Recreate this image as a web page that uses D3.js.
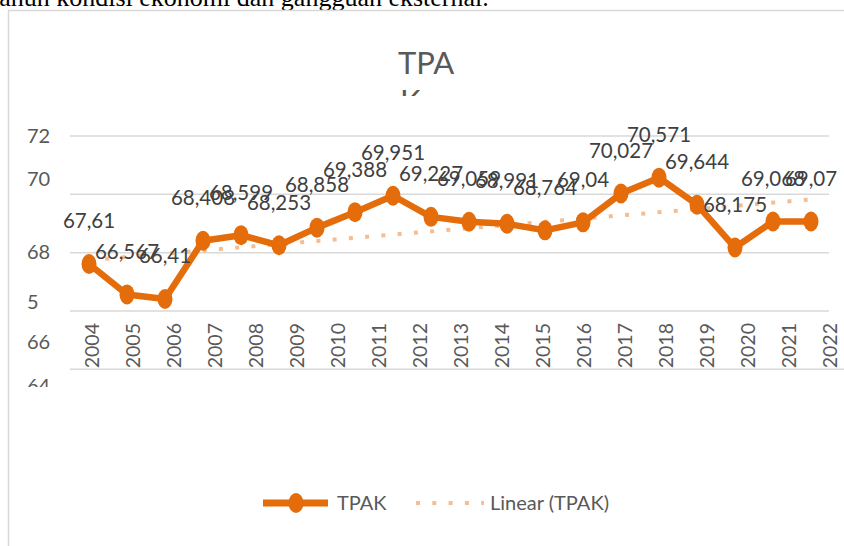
<!DOCTYPE html>
<html>
<head>
<meta charset="utf-8">
<script src="https://cdn.jsdelivr.net/npm/d3@7"></script>
<style>
  html, body { margin: 0; padding: 0; background: #fff; }
  svg { display: block; }
</style>
</head>
<body>
<svg id="chart" width="844" height="546"></svg>
<script>
// ---- data ----
const years = [2004, 2005, 2006, 2007, 2008, 2009, 2010, 2011, 2012, 2013,
               2014, 2015, 2016, 2017, 2018, 2019, 2020, 2021, 2022];
const tpak = [67.61, 66.567, 66.41, 68.408, 68.599, 68.253, 68.858, 69.388, 69.951, 69.227,
              69.059, 68.991, 68.764, 69.04, 70.027, 70.571, 69.644, 68.175, 69.068, 69.07];
const gridTicks = [64, 66, 68, 70, 72];
const tickLabels = ["72", "70", "68", "5", "66", "64"];
const tickLabelAt = [72, 70.53, 68.03, 66.32, 64.94, 63.42];
const titleLines = ["TPA", "K"];
const seriesName = "TPAK";
const trendName = "Linear (TPAK)";
const pageText = "tahun kondisi ekonomi dan gangguan eksternal.";

// ---- styling ----
const ORANGE = "#E46C0A";
const TREND = "#F6BC92";
const GRID = "#D9D9D9";
const TXT = "#595959";
const LBL = "#404040";
const FONT = "Lato, 'Open Sans', sans-serif";

const svg = d3.select("#chart");

// page text above the chart (cut off by the top edge)
svg.append("text")
  .attr("x", -8).attr("y", 6)
  .attr("font-family", "'Liberation Serif', 'DejaVu Serif', serif")
  .attr("font-size", 26)
  .attr("fill", "#000")
  .text(pageText);

// chart frame
svg.append("path")
  .attr("d", "M8.5,546 V10.5 H844")
  .attr("fill", "none")
  .attr("stroke", GRID)
  .attr("stroke-width", 1.5);

// scales
const y = d3.scaleLinear().domain([64, 72]).range([369.3, 136]);
const x = d3.scalePoint().domain(d3.range(tpak.length)).range([89, 811]);
const xYear = d3.scalePoint().domain(years).range([92, 830]);

// gridlines
svg.append("g").selectAll("line")
  .data(gridTicks)
  .join("line")
  .attr("x1", 70)
  .attr("x2", d => d === 64 ? 844 : 829)
  .attr("y1", d => y(d)).attr("y2", d => y(d))
  .attr("stroke", GRID)
  .attr("stroke-width", 1.5);

// y tick labels (clipped at the bottom as in the reference)
const defs = svg.append("defs");
defs.append("clipPath").attr("id", "tickClip")
  .append("rect").attr("x", 0).attr("y", 100).attr("width", 70).attr("height", 287);
svg.append("g").attr("clip-path", "url(#tickClip)")
  .selectAll("text")
  .data(tickLabels)
  .join("text")
  .attr("x", 27)
  .attr("y", (d, i) => y(tickLabelAt[i]))
  .attr("dy", "0.36em")
  .attr("font-family", FONT)
  .attr("font-size", 20)
  .attr("fill", TXT)
  .text(d => d);

// x axis labels (rotated)
svg.append("g").selectAll("text")
  .data(years)
  .join("text")
  .attr("transform", d => `translate(${xYear(d)},323) rotate(-90)`)
  .attr("text-anchor", "end")
  .attr("dy", "0.36em")
  .attr("font-family", FONT)
  .attr("font-size", 19.5)
  .attr("fill", TXT)
  .text(d => d);

// linear trendline (least squares on the series)
const n = tpak.length;
const mx = d3.mean(d3.range(n));
const my = d3.mean(tpak);
const slope = d3.sum(tpak, (v, i) => (i - mx) * (v - my)) / d3.sum(d3.range(n), i => (i - mx) * (i - mx));
const intercept = my - slope * mx;
const trend = [0, n - 1].map(i => [i, intercept + slope * i]);
svg.append("path")
  .datum(trend)
  .attr("d", d3.line().x(d => x(d[0])).y(d => y(d[1])))
  .attr("fill", "none")
  .attr("stroke", TREND)
  .attr("stroke-width", 4)
  .attr("stroke-dasharray", "4 12.3");

// series line
svg.append("path")
  .datum(tpak)
  .attr("d", d3.line().x((d, i) => x(i)).y(d => y(d)))
  .attr("fill", "none")
  .attr("stroke", ORANGE)
  .attr("stroke-width", 6.5)
  .attr("stroke-linejoin", "round");

// markers
svg.append("g").selectAll("ellipse")
  .data(tpak)
  .join("ellipse")
  .attr("cx", (d, i) => x(i))
  .attr("cy", d => y(d))
  .attr("rx", 7.5).attr("ry", 10)
  .attr("fill", ORANGE);

// data labels
svg.append("g").selectAll("text")
  .data(tpak)
  .join("text")
  .attr("x", (d, i) => x(i))
  .attr("y", d => y(d) - 43)
  .attr("dy", "0.36em")
  .attr("text-anchor", "middle")
  .attr("font-family", FONT)
  .attr("font-size", 20.5)
  .attr("fill", LBL)
  .text(d => String(d).replace(".", ","));

// title (second line cut off)
defs.append("clipPath").attr("id", "titleClip")
  .append("rect").attr("x", 300).attr("y", 30).attr("width", 250).attr("height", 66);
svg.append("g").attr("clip-path", "url(#titleClip)")
  .selectAll("text")
  .data(titleLines)
  .join("text")
  .attr("x", (d, i) => i === 0 ? 398 : 400)
  .attr("y", (d, i) => 74 + i * 38)
  .attr("font-family", FONT)
  .attr("font-size", 31)
  .attr("fill", TXT)
  .text(d => d);

// legend
const lg = svg.append("g");
lg.append("line")
  .attr("x1", 263).attr("x2", 328).attr("y1", 503).attr("y2", 503)
  .attr("stroke", ORANGE).attr("stroke-width", 7);
lg.append("ellipse")
  .attr("cx", 296).attr("cy", 503).attr("rx", 7.5).attr("ry", 10)
  .attr("fill", ORANGE);
lg.append("text")
  .attr("x", 337).attr("y", 503).attr("dy", "0.36em")
  .attr("font-family", FONT).attr("font-size", 20).attr("fill", TXT)
  .text(seriesName);
lg.append("line")
  .attr("x1", 416).attr("x2", 484).attr("y1", 503).attr("y2", 503)
  .attr("stroke", TREND).attr("stroke-width", 4)
  .attr("stroke-dasharray", "4 12.3");
lg.append("text")
  .attr("x", 490).attr("y", 503).attr("dy", "0.36em")
  .attr("font-family", FONT).attr("font-size", 20).attr("fill", TXT)
  .text(trendName);
</script>
</body>
</html>
